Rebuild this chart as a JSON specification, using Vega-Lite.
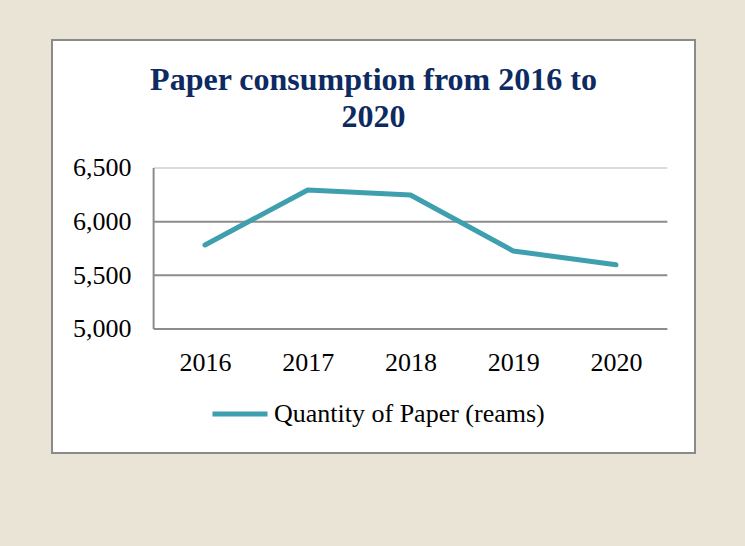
{
  "$schema": "https://vega.github.io/schema/vega-lite/v6.json",
  "autosize": {"type": "none"},
  "width": 643,
  "height": 413,
  "padding": {"left": 52, "top": 40, "right": 50, "bottom": 93},
  "background": "#EAE4D7",
  "config": {
    "view": {"fill": "white", "stroke": "#8A8A8A", "strokeWidth": 2},
    "font": "Liberation Serif"
  },
  "title": {
    "text": ["Paper consumption from 2016 to", "2020"],
    "font": "Liberation Serif",
    "fontSize": 32,
    "fontWeight": "bold",
    "color": "#0D2A62",
    "anchor": "middle",
    "frame": "group",
    "lineHeight": 37,
    "baseline": "alphabetic",
    "orient": "top",
    "offset": -119
  },
  "datasets": {
    "paper": [
      {"year": 2016, "reams": 5783},
      {"year": 2017, "reams": 6295},
      {"year": 2018, "reams": 6249},
      {"year": 2019, "reams": 5727},
      {"year": 2020, "reams": 5598}
    ],
    "grid": [
      {"value": 5000},
      {"value": 5500},
      {"value": 6000}
    ]
  },
  "layer": [
    {
      "data": {"name": "grid"},
      "mark": {"type": "rule", "color": "#8C8C8C", "strokeWidth": 2},
      "encoding": {
        "y": {
          "field": "value", "type": "quantitative", "title": null,
          "scale": {"domain": [3844.7, 7692.5], "nice": false, "zero": false},
          "axis": {
            "orient": "left", "offset": -101, "values": [5000, 5500, 6000, 6500], "format": ",.0f",
            "domain": false, "ticks": false, "grid": false, "labelPadding": 22,
            "labelFont": "Liberation Serif", "labelFontSize": 26, "labelColor": "#000000", "title": null
          }
        },
        "x": {
          "datum": 2015.5, "type": "quantitative", "title": null,
          "scale": {"domain": [2014.511, 2020.769], "nice": false, "zero": false},
          "axis": {
            "orient": "bottom", "offset": -124, "values": [2016, 2017, 2018, 2019, 2020], "format": "d",
            "domain": false, "ticks": false, "grid": false, "labelPadding": 20,
            "labelFont": "Liberation Serif", "labelFontSize": 26, "labelColor": "#000000", "title": null
          }
        },
        "x2": {"datum": 2020.5}
      }
    },
    {
      "data": {"values": [{"value": 6500}]},
      "mark": {"type": "rule", "color": "#DCDCDC", "strokeWidth": 2},
      "encoding": {
        "y": {"field": "value", "type": "quantitative", "title": null},
        "x": {"datum": 2015.5, "type": "quantitative", "title": null},
        "x2": {"datum": 2020.5}
      }
    },
    {
      "data": {"values": [{"from": 5000, "to": 6500}]},
      "mark": {"type": "rule", "color": "#8C8C8C", "strokeWidth": 2},
      "encoding": {
        "y": {"field": "from", "type": "quantitative", "title": null},
        "y2": {"field": "to"},
        "x": {"datum": 2015.5, "type": "quantitative", "title": null}
      }
    },
    {
      "data": {"name": "paper"},
      "mark": {"type": "line", "strokeWidth": 5, "strokeCap": "round", "strokeJoin": "round"},
      "encoding": {
        "x": {"field": "year", "type": "quantitative", "title": null},
        "y": {"field": "reams", "type": "quantitative", "title": null},
        "color": {
          "datum": "Quantity of Paper (reams)",
          "type": "nominal",
          "scale": {"range": ["#3E9FAE"]},
          "legend": {
            "title": null, "orient": "none", "legendX": 158, "legendY": 344,
            "symbolType": "stroke", "symbolSize": 3025, "symbolStrokeWidth": 5, "symbolStrokeColor": "#3E9FAE",
            "labelFont": "Liberation Serif", "labelFontSize": 26, "labelColor": "#000000",
            "labelOffset": 4, "padding": 0, "labelLimit": 0
          }
        }
      }
    }
  ]
}
